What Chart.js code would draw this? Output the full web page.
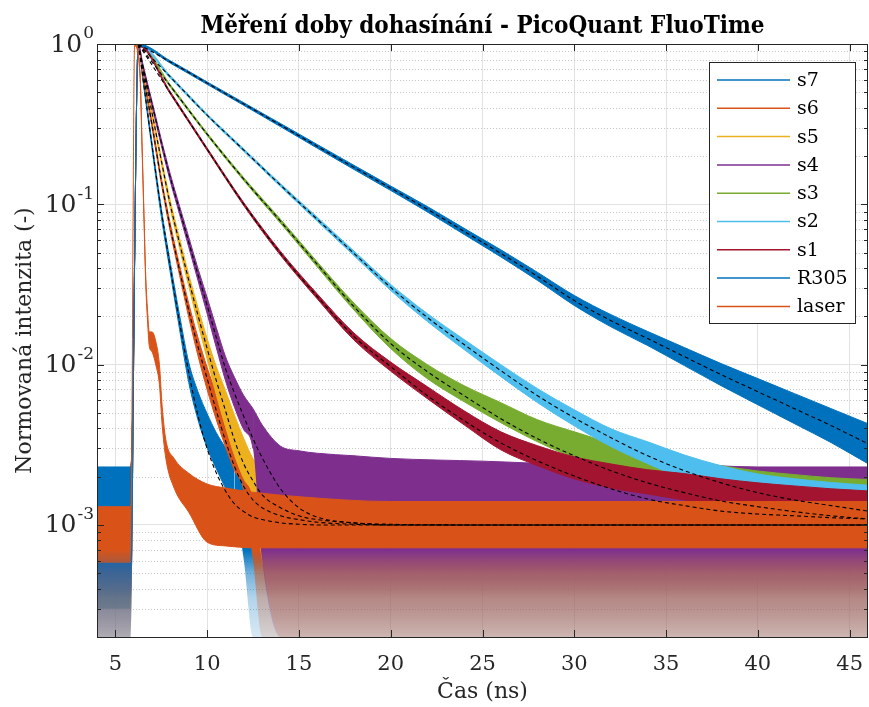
<!DOCTYPE html>
<html>
<head>
<meta charset="utf-8">
<title>Měření doby dohasínání</title>
<script src="https://cdn.jsdelivr.net/npm/chart.js@4.4.1/dist/chart.umd.min.js"></script>
<style>
  html, body { margin: 0; padding: 0; background: #fff; }
  #chart1 { display: block; }
</style>
</head>
<body>
<canvas id="chart1" width="869" height="707"></canvas>
<script>
// time grid (ns) for the slow decays s1, s2, s3, R305
const tSlow = [4, 5.85, 6.25, 8, 10, 12, 14, 16, 18, 20, 22, 24, 26, 28, 30, 32, 34, 36, 38, 40, 42, 44, 46];
// time grid (ns) for the fast decays s4 .. s7
const tFast = [4, 5.85, 6.25, 6.5, 7, 7.5, 8, 8.5, 9, 9.5, 10, 10.5, 11, 11.5, 12, 12.5, 13, 14, 15, 16, 18, 20, 25, 30, 35, 40, 46];
// time grid (ns) for the laser response
const tLaser = [4, 5.85, 6.05, 6.35, 6.45, 6.55, 6.65, 6.75, 6.85, 7.0, 7.2, 7.4, 7.55, 7.75, 8.2, 9, 10, 11, 12.5, 15, 20, 30, 46];

// upper / lower edge of the noisy measured trace, plus the fitted curve (dashed)
const r305Hi = [2.3e-3, 2.3e-3, 1.0, 0.785, 0.580, 0.430, 0.319, 0.236, 0.175, 0.130, 0.0968, 0.0708, 0.0520, 0.0376, 0.0270, 0.0205, 0.0161, 0.01277, 0.01015, 0.00818, 0.00659, 0.00531, 0.00428];
const r305Lo = [2e-4, 2e-4, 0.97, 0.759, 0.560, 0.414, 0.305, 0.224, 0.165, 0.122, 0.0896, 0.0649, 0.0470, 0.0335, 0.0234, 0.0172, 0.01315, 0.00986, 0.00739, 0.00562, 0.00428, 0.00326, 0.00241];
const r305Fit = [null, null, 1.0, 0.772, 0.570, 0.422, 0.312, 0.230, 0.170, 0.126, 0.0931, 0.0678, 0.0494, 0.0355, 0.0251, 0.0188, 0.01454, 0.01122, 0.00866, 0.00678, 0.00531, 0.00416, 0.00321];

const s2Hi = [2.0e-3, 2.0e-3, 1.0, 0.633, 0.366, 0.2216, 0.1344, 0.0830, 0.0511, 0.0316, 0.0208, 0.01434, 0.0100, 0.00708, 0.00523, 0.00398, 0.0033, 0.00273, 0.00234, 0.00208, 0.00194, 0.00184, 0.00177];
const s2Lo = [3e-4, 3e-4, 0.97, 0.611, 0.354, 0.2135, 0.1287, 0.0783, 0.0478, 0.0290, 0.01857, 0.01241, 0.00841, 0.00579, 0.00415, 0.00308, 0.00241, 0.00193, 0.00161, 0.00139, 0.00126, 0.00118, 0.00112];
const s2Fit = [null, null, 1.0, 0.622, 0.360, 0.2175, 0.1315, 0.0806, 0.0494, 0.0303, 0.01967, 0.01334, 0.00917, 0.0064, 0.00466, 0.0035, 0.0027, 0.00218, 0.00183, 0.00159, 0.00143, 0.00132, 0.00122];

const s3Hi = [2.0e-3, 2.0e-3, 1.0, 0.5558, 0.2786, 0.1464, 0.0806, 0.0437, 0.0242, 0.01454, 0.0100, 0.00739, 0.00579, 0.00453, 0.00381, 0.00325, 0.00285, 0.00258, 0.00234, 0.00217, 0.00206, 0.00197, 0.00192];
const s3Lo = [3e-4, 3e-4, 0.97, 0.537, 0.2691, 0.1402, 0.0761, 0.0407, 0.0219, 0.01259, 0.00817, 0.00587, 0.00434, 0.0033, 0.00262, 0.00218, 0.00185, 0.00163, 0.00148, 0.00133, 0.00126, 0.00121, 0.00117];
const s3Fit = [null, null, 1.0, 0.5463, 0.2738, 0.1433, 0.0783, 0.0422, 0.023, 0.01353, 0.00904, 0.0064, 0.0046, 0.00345, 0.0027, 0.00218, 0.00183, 0.00159, 0.00141, 0.0013, 0.00121, 0.00114, 0.00109];

const s1Hi = [2.0e-3, 2.0e-3, 1.0, 0.5026, 0.2245, 0.1022, 0.0508, 0.0276, 0.01573, 0.01037, 0.00728, 0.00515, 0.00381, 0.00312, 0.00266, 0.0024, 0.00221, 0.00209, 0.00194, 0.00183, 0.00175, 0.00168, 0.00163];
const s1Lo = [3e-4, 3e-4, 0.97, 0.4856, 0.2169, 0.0979, 0.048, 0.0257, 0.01422, 0.00911, 0.00613, 0.00421, 0.00294, 0.00234, 0.00194, 0.0017, 0.00156, 0.00143, 0.00134, 0.00126, 0.0012, 0.00115, 0.00112];
const s1Fit = [null, null, 1.0, 0.494, 0.2207, 0.1, 0.0494, 0.0266, 0.01496, 0.00972, 0.0064, 0.00447, 0.00325, 0.00251, 0.00202, 0.00168, 0.00145, 0.00132, 0.00122, 0.00117, 0.00114, 0.00111, 0.00109];

const s7Hi = [2.2e-3, 2.2e-3, 1.0, 0.631, 0.2405, 0.0944, 0.0428, 0.0203, 0.0103, 0.00678, 0.00494, 0.00376, 0.00303, 0.00244, 0.00202, 0.0018, 0.00168, 0.00152, 0.00148, 0.00145, 0.00145, 0.00145, 0.00145, 0.00145, 0.00145, 0.00145, 0.00145];
const s7Lo = [2e-4, 2e-4, 0.97, 0.5957, 0.2207, 0.0841, 0.037, 0.01655, 0.00772, 0.00453, 0.00303, 0.00224, 0.0017, 0.00137, 6e-4, 2e-4, 2e-4, 2e-4, 2e-4, 2e-4, 2e-4, 2e-4, 2e-4, 2e-4, 2e-4, 2e-4, 2e-4];
const s7Fit = [null, null, 1.0, 0.613, 0.2304, 0.0917, 0.0398, 0.0183, 0.00891, 0.0048, 0.00299, 0.00211, 0.00163, 0.00135, 0.00121, 0.00112, 0.00108, 0.00103, 0.00101, 0.001, 0.001, 0.001, 0.001, 0.001, 0.001, 0.001, 0.001];

const s6Hi = [2.2e-3, 2.2e-3, 1.0, 0.688, 0.3254, 0.1475, 0.075, 0.0416, 0.02405, 0.01475, 0.00958, 0.00659, 0.00473, 0.00355, 0.00274, 0.00224, 0.00194, 0.00161, 0.0015, 0.00148, 0.00145, 0.00145, 0.00145, 0.00145, 0.00145, 0.00145, 0.00145];
const s6Lo = [2e-4, 2e-4, 0.97, 0.6494, 0.2986, 0.1353, 0.0668, 0.036, 0.01967, 0.01138, 0.00698, 0.00453, 0.00307, 0.00218, 0.00163, 6e-4, 2e-4, 2e-4, 2e-4, 2e-4, 2e-4, 2e-4, 2e-4, 2e-4, 2e-4, 2e-4, 2e-4];
const s6Fit = [null, null, 1.0, 0.6684, 0.3117, 0.1413, 0.0708, 0.0387, 0.02175, 0.01296, 0.00818, 0.00516, 0.00335, 0.0023, 0.00173, 0.00143, 0.00128, 0.00114, 0.00108, 0.00104, 0.00101, 0.001, 0.001, 0.001, 0.001, 0.001, 0.001];

const s5Hi = [2.2e-3, 2.2e-3, 1.0, 0.7286, 0.384, 0.1967, 0.1044, 0.0613, 0.0365, 0.0227, 0.01454, 0.00972, 0.00688, 0.0048, 0.00345, 0.00259, 0.00218, 0.00183, 0.00166, 0.00154, 0.00145, 0.00142, 0.00142, 0.00142, 0.00142, 0.00142, 0.00142];
const s5Lo = [2e-4, 2e-4, 0.97, 0.688, 0.3575, 0.1804, 0.0931, 0.0531, 0.0307, 0.018, 0.0109, 0.00649, 0.0041, 0.0027, 0.00194, 0.0015, 6e-4, 2e-4, 2e-4, 2e-4, 2e-4, 2e-4, 2e-4, 2e-4, 2e-4, 2e-4, 2e-4];
const s5Fit = [null, null, 1.0, 0.708, 0.3705, 0.1884, 0.0986, 0.05705, 0.0335, 0.0203, 0.01259, 0.00794, 0.00516, 0.00335, 0.0024, 0.00188, 0.00154, 0.00128, 0.00114, 0.00108, 0.00103, 0.001, 0.001, 0.001, 0.001, 0.001, 0.001];

const s4Hi = [2.2e-3, 2.2e-3, 1.0, 0.75, 0.4372, 0.2548, 0.1532, 0.0972, 0.0622, 0.0398, 0.0262, 0.017, 0.01122, 0.00829, 0.0064, 0.00531, 0.0042, 0.0031, 0.0029, 0.0028, 0.0027, 0.0026, 0.0025, 0.0024, 0.0024, 0.0023, 0.0023];
const s4Lo = [2e-4, 2e-4, 0.97, 0.708, 0.4068, 0.2337, 0.1382, 0.0866, 0.0539, 0.0335, 0.0208, 0.01277, 0.00794, 0.00539, 0.00392, 0.00299, 6e-4, 2e-4, 2e-4, 2e-4, 2e-4, 2e-4, 2e-4, 2e-4, 2e-4, 2e-4, 2e-4];
const s4Fit = [null, null, 1.0, 0.7286, 0.4217, 0.244, 0.1454, 0.0917, 0.0579, 0.0365, 0.0234, 0.01475, 0.00944, 0.00659, 0.00473, 0.00345, 0.00262, 0.00168, 0.00128, 0.00112, 0.00103, 0.00101, 0.001, 0.001, 0.001, 0.001, 0.001];

const laserHi = [1.3e-3, 1.3e-3, 1.0, 0.66, 0.25, 0.096, 0.037, 0.022, 0.016, 0.016, 0.014, 0.010, 0.0055, 0.0034, 0.0026, 0.0021, 0.0018, 0.0017, 0.0016, 0.0015, 0.0014, 0.0014, 0.0014];
const laserLo = [5.8e-4, 5.8e-4, 0.97, 0.60, 0.23, 0.088, 0.033, 0.019, 0.013, 0.012, 0.010, 0.0075, 0.0042, 0.0026, 0.0017, 0.0012, 0.00078, 0.00074, 0.00072, 0.00072, 0.00072, 0.00072, 0.00072];

const xTicks = [5, 10, 15, 20, 25, 30, 35, 40, 45];
const yMajor = [1e-3, 1e-2, 1e-1, 1];

const BLUE = '#0072BD', ORANGE = '#D95319', YELLOW = '#EDB120', PURPLE = '#7E2F8E',
      GREEN = '#77AC30', CYAN = '#4DBEEE', RED = '#A2142F';
const legendItems = [['s7', BLUE], ['s6', ORANGE], ['s5', YELLOW], ['s4', PURPLE], ['s3', GREEN],
                     ['s2', CYAN], ['s1', RED], ['R305', BLUE], ['laser', ORANGE]];
const TITLE = 'Měření doby dohasínání - PicoQuant FluoTime';

const FONT = "'DejaVu Serif', serif";
const TITLE_FONT = "'DejaVu Serif Condensed', 'DejaVu Serif', serif";
Chart.defaults.font.family = FONT;
Chart.defaults.color = '#262626';

function rgba(hex, a) {
    const n = parseInt(hex.slice(1), 16);
    return `rgba(${n >> 16}, ${(n >> 8) & 255}, ${n & 255}, ${a})`;
}

// below ~7e-4 the noise floor is only sparse spikes, so the band fades out there
function shade(ctx, col) {
    const chart = ctx.chart;
    const a = chart.chartArea;
    if (!a || !chart.scales.y) return col;
    const y = chart.scales.y;
    const h = a.bottom - a.top;
    const at = v => Math.min(1, Math.max(0, (y.getPixelForValue(v) - a.top) / h));
    const g = chart.ctx.createLinearGradient(0, a.top, 0, a.bottom);
    g.addColorStop(0, col);
    g.addColorStop(at(7e-4), col);
    g.addColorStop(at(5e-4), rgba(col, 0.55));
    g.addColorStop(at(3.5e-4), rgba(col, 0.3));
    g.addColorStop(1, rgba(col, 0.15));
    return g;
}

const pts = (t, v) => t.map((x, i) => ({ x: x, y: v[i] })).filter(p => p.y !== null);
// no edge line where the lower edge runs down into the sparse noise floor
const hideLow = c => (c.p0.parsed.y < 7e-4 || c.p1.parsed.y < 7e-4) ? 'rgba(0,0,0,0)' : undefined;

function band(label, col, t, hi, lo) {
    return [{
        label: label,
        data: pts(t, hi),
        borderColor: col,
        borderWidth: 1,
        pointRadius: 0,
        cubicInterpolationMode: 'monotone',
        fill: '+1',
        backgroundColor: ctx => shade(ctx, col)
    }, {
        label: '',
        data: pts(t, lo),
        borderColor: col,
        borderWidth: 1,
        pointRadius: 0,
        cubicInterpolationMode: 'monotone',
        segment: { borderColor: hideLow },
        fill: false
    }];
}

function fit(t, v) {
    return {
        label: '',
        data: pts(t, v),
        borderColor: '#000',
        borderWidth: 1.1,
        borderDash: [4, 3],
        pointRadius: 0,
        cubicInterpolationMode: 'monotone',
        fill: false
    };
}

// the first dataset is drawn on top, so this runs opposite to the plotting order
const datasets = [
    fit(tFast, s7Fit), fit(tFast, s6Fit), fit(tFast, s5Fit), fit(tFast, s4Fit),
    fit(tSlow, s3Fit), fit(tSlow, s2Fit), fit(tSlow, s1Fit), fit(tSlow, r305Fit),
    ...band('laser', ORANGE, tLaser, laserHi, laserLo),
    ...band('R305', BLUE, tSlow, r305Hi, r305Lo),
    ...band('s1', RED, tSlow, s1Hi, s1Lo),
    ...band('s2', CYAN, tSlow, s2Hi, s2Lo),
    ...band('s3', GREEN, tSlow, s3Hi, s3Lo),
    ...band('s4', PURPLE, tFast, s4Hi, s4Lo),
    ...band('s5', YELLOW, tFast, s5Hi, s5Lo),
    ...band('s6', ORANGE, tFast, s6Hi, s6Lo),
    ...band('s7', BLUE, tFast, s7Hi, s7Lo)
];

const matlabAxes = {
    id: 'matlabAxes',
    beforeDatasetsDraw(chart) {
        const { ctx, chartArea: a, scales: { y } } = chart;
        ctx.save();
        ctx.strokeStyle = '#c4c4c4';
        ctx.lineWidth = 1;
        ctx.setLineDash([1, 2]);
        for (let e = -4; e < 0; e++) {
            for (let m = 2; m <= 9; m++) {
                const v = m * Math.pow(10, e);
                if (v < 2e-4 || v > 1) continue;
                const py = Math.round(y.getPixelForValue(v)) + 0.5;
                ctx.beginPath(); ctx.moveTo(a.left, py); ctx.lineTo(a.right, py); ctx.stroke();
            }
        }
        ctx.restore();
    },
    afterDatasetsDraw(chart) {
        const { ctx, chartArea: a, scales: { x, y } } = chart;
        ctx.save();
        ctx.strokeStyle = '#262626';
        ctx.lineWidth = 1;
        // ticks inside the box, on all four sides
        ctx.beginPath();
        for (const v of xTicks) {
            const px = Math.round(x.getPixelForValue(v)) + 0.5;
            ctx.moveTo(px, a.bottom); ctx.lineTo(px, a.bottom - 7);
            ctx.moveTo(px, a.top); ctx.lineTo(px, a.top + 7);
        }
        for (let e = -4; e <= 0; e++) {
            for (let m = 1; m <= 9; m++) {
                const v = m * Math.pow(10, e);
                if (v < 2e-4 || v > 1) continue;
                const len = m === 1 ? 7 : 4;
                const py = Math.round(y.getPixelForValue(v)) + 0.5;
                ctx.moveTo(a.left, py); ctx.lineTo(a.left + len, py);
                ctx.moveTo(a.right, py); ctx.lineTo(a.right - len, py);
            }
        }
        ctx.stroke();
        ctx.strokeRect(Math.round(a.left) + 0.5, Math.round(a.top) + 0.5,
                       Math.round(a.right - a.left) - 1, Math.round(a.bottom - a.top));

        // title centred over the axes
        ctx.fillStyle = '#000';
        ctx.font = `bold 24px ${TITLE_FONT}`;
        ctx.textAlign = 'center';
        ctx.textBaseline = 'middle';
        ctx.fillText(TITLE, (a.left + a.right) / 2, 27);

        // y tick labels: 10 with a raised exponent
        ctx.fillStyle = '#262626';
        for (const v of yMajor) {
            const py = y.getPixelForValue(v);
            const ex = String(Math.round(Math.log10(v)));
            ctx.font = `17px ${FONT}`;
            ctx.textAlign = 'right';
            const ew = ctx.measureText(ex).width;
            ctx.fillText(ex, a.left - 3, py - 10);
            ctx.font = `25px ${FONT}`;
            ctx.fillText('10', a.left - 4 - ew, py + 1);
        }

        // legend box
        const bx = 709, by = 62, bw = 146, bh = 261;
        ctx.fillStyle = '#fff';
        ctx.fillRect(bx, by, bw, bh);
        ctx.strokeStyle = '#262626';
        ctx.strokeRect(bx + 0.5, by + 0.5, bw, bh);
        ctx.font = `19px ${FONT}`;
        ctx.textAlign = 'left';
        legendItems.forEach(([name, col], i) => {
            const ly = by + 18 + i * 28.3;
            ctx.strokeStyle = col;
            ctx.lineWidth = 1.5;
            ctx.beginPath(); ctx.moveTo(bx + 8, ly); ctx.lineTo(bx + 81, ly); ctx.stroke();
            ctx.fillStyle = '#000';
            ctx.fillText(name, bx + 88, ly + 1);
        });
        ctx.restore();
    }
};

const config = {
    type: 'line',
    data: { datasets: datasets },
    options: {
        responsive: false,
        animation: false,
        events: [],
        layout: { padding: { top: 44, right: 1, left: 0, bottom: 0 } },
        plugins: {
            legend: { display: false },
            tooltip: { enabled: false },
            title: { display: false }
        },
        scales: {
            x: {
                type: 'linear',
                min: 4,
                max: 46,
                afterBuildTicks: s => { s.ticks = xTicks.map(v => ({ value: v })); },
                afterFit: s => { s.height = 70; s.paddingLeft = 0; s.paddingRight = 0; },
                ticks: { font: { size: 21 }, padding: 15, color: '#262626', maxRotation: 0 },
                grid: { color: '#e2e2e2', drawTicks: false },
                border: { display: false },
                title: { display: true, text: 'Čas (ns)', color: '#262626', font: { size: 22 }, padding: { top: 0, bottom: 2 } }
            },
            y: {
                type: 'logarithmic',
                min: 2e-4,
                max: 1,
                afterBuildTicks: s => { s.ticks = yMajor.map(v => ({ value: v })); },
                afterFit: s => { s.width = 97; s.paddingTop = 0; s.paddingBottom = 0; },
                ticks: { display: false },
                grid: { color: '#e2e2e2', drawTicks: false },
                border: { display: false },
                title: { display: true, text: 'Normovaná intenzita (-)', color: '#262626', font: { size: 22 }, padding: { top: 12, bottom: 0 } }
            }
        }
    },
    plugins: [matlabAxes]
};

const ctx1 = document.getElementById('chart1').getContext('2d');
const chart1 = new Chart(ctx1, config);
</script>
</body>
</html>
